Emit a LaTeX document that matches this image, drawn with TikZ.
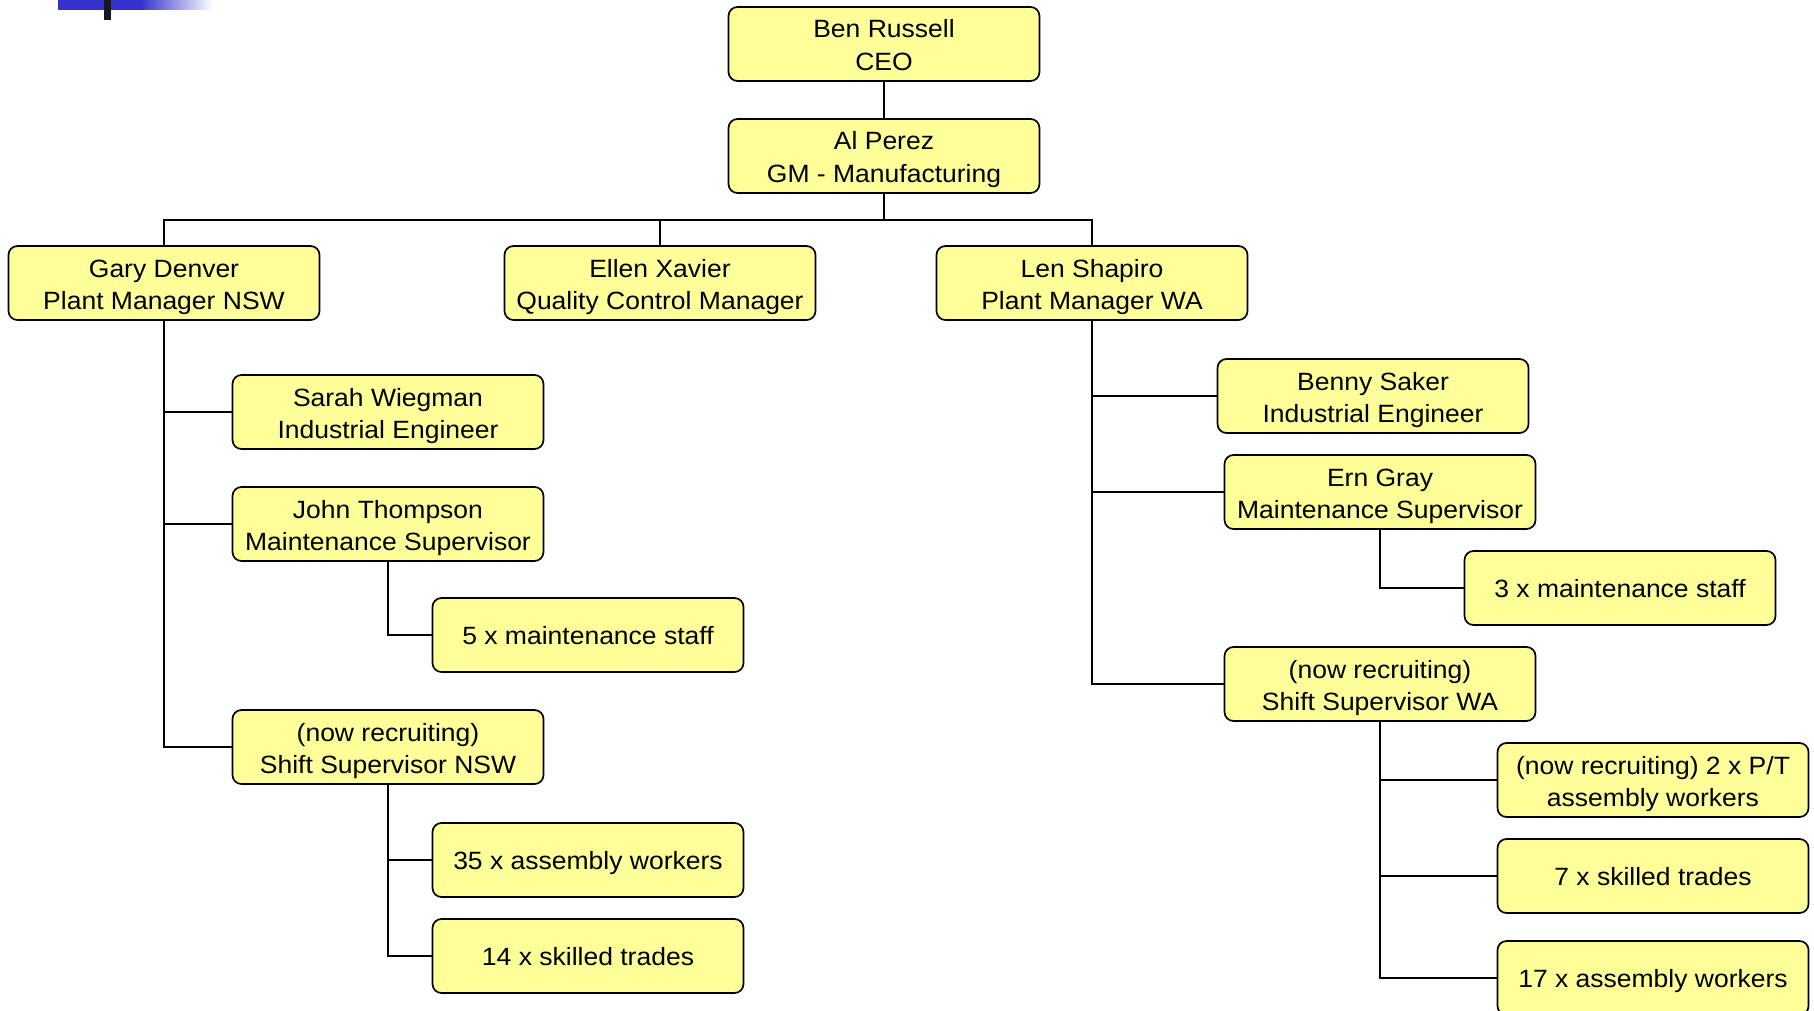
\documentclass[tikz,border=0pt]{standalone}
\usepackage{fontspec}
\setmainfont[FakeStretch=1.06]{Liberation Sans}
\definecolor{boxfill}{HTML}{FFFF99}
\definecolor{barblue}{HTML}{3333CC}
\begin{document}
\begin{tikzpicture}[x=1pt,y=-1pt,
  box/.style={draw=black,line width=1.7pt,fill=boxfill,rounded corners=9pt,
    minimum width=311pt,minimum height=74pt,align=center,inner sep=0pt,
    font=\fontsize{25}{32.3}\selectfont,text height=18.6pt,text depth=0pt},
  boxtwo/.style={box,text height=52.6pt,text depth=0pt},
  conn/.style={draw=black,line width=1.7pt}]
\useasboundingbox (0,0) rectangle (1814,1011);
% decoration
\fill[barblue] (58,0) rectangle (140,10);
\shade[left color=barblue,right color=white] (140,0) rectangle (213,10);
\fill[black!90] (104,0) rectangle (111,20);
% nodes
\node[boxtwo] (ben) at (884,44) {Ben Russell\\CEO};
\node[boxtwo] (al) at (884,156) {Al Perez\\GM - Manufacturing};
\node[boxtwo] (gary) at (164,283) {Gary Denver\\Plant Manager NSW};
\node[boxtwo] (ellen) at (660,283) {Ellen Xavier\\Quality Control Manager};
\node[boxtwo] (len) at (1092,283) {Len Shapiro\\Plant Manager WA};
\node[boxtwo] (sarah) at (388,412) {Sarah Wiegman\\Industrial Engineer};
\node[boxtwo] (john) at (388,524) {John Thompson\\Maintenance Supervisor};
\node[box] (maintf) at (588,635) {5 x maintenance staff};
\node[boxtwo] (shiftnsw) at (388,747) {(now recruiting)\\Shift Supervisor NSW};
\node[box] (asmtf) at (588,860) {35 x assembly workers};
\node[box] (skillf) at (588,956) {14 x skilled trades};
\node[boxtwo] (benny) at (1373,396) {Benny Saker\\Industrial Engineer};
\node[boxtwo] (ern) at (1380,492) {Ern Gray\\Maintenance Supervisor};
\node[box] (maintt) at (1620,588) {3 x maintenance staff};
\node[boxtwo] (shiftwa) at (1380,684) {(now recruiting)\\Shift Supervisor WA};
\node[boxtwo] (pt) at (1653,780) {(now recruiting) 2 x P/T\\assembly workers};
\node[box] (skills) at (1653,876) {7 x skilled trades};
\node[box] (asms) at (1653,978) {17 x assembly workers};
% connectors
\coordinate (bus) at (884,220);
\draw[conn] (ben.south) -- (al.north);
\draw[conn] (al.south) -- (bus) -| (gary.north);
\draw[conn] (bus) -| (ellen.north);
\draw[conn] (bus) -| (len.north);
\draw[conn] (gary.south) |- (sarah.west);
\draw[conn] (gary.south) |- (john.west);
\draw[conn] (gary.south) |- (shiftnsw.west);
\draw[conn] (john.south) |- (maintf.west);
\draw[conn] (shiftnsw.south) |- (asmtf.west);
\draw[conn] (shiftnsw.south) |- (skillf.west);
\draw[conn] (len.south) |- (benny.west);
\draw[conn] (len.south) |- (ern.west);
\draw[conn] (len.south) |- (shiftwa.west);
\draw[conn] (ern.south) |- (maintt.west);
\draw[conn] (shiftwa.south) |- (pt.west);
\draw[conn] (shiftwa.south) |- (skills.west);
\draw[conn] (shiftwa.south) |- (asms.west);
\end{tikzpicture}
\end{document}
